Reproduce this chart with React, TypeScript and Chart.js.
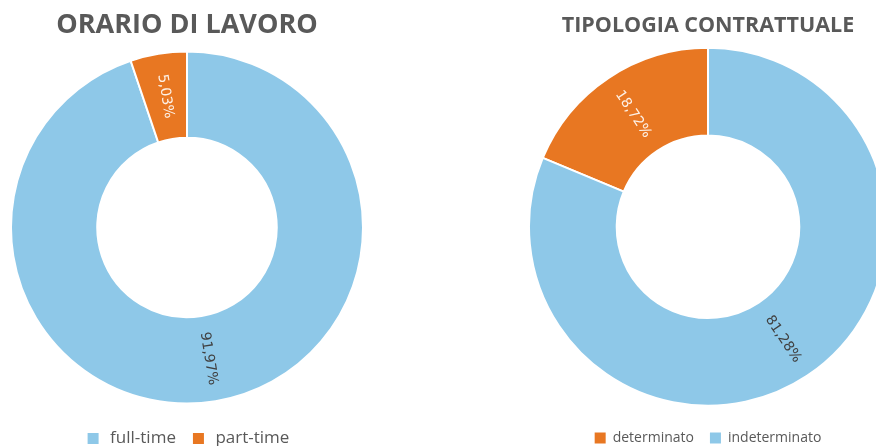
import React, { useEffect, useRef } from 'react';
import { Chart, registerables } from 'chart.js';

Chart.register(...registerables);

// ---- Data ----
const leftTitle = 'ORARIO DI LAVORO';
const leftLabels = ['full-time', 'part-time'];
const leftValues = [91.97, 5.03];

const rightTitle = 'TIPOLOGIA CONTRATTUALE';
const rightLabels = ['determinato', 'indeterminato'];
const rightValues = [18.72, 81.28];

// ---- Styles ----
const BLUE = '#8ec8e8';
const ORANGE = '#e87722';
const DARK_LABEL = '#404040';
const LIGHT_LABEL = '#fdf1e7';
const TEXT_GREY = '#595959';

const fmt = (v: number) => v.toFixed(2).replace('.', ',') + '%';

const rotatedLabels = {
  id: 'rotatedLabels',
  afterDatasetsDraw(chart: any, _args: any, opts: any) {
    const { ctx } = chart;
    const meta = chart.getDatasetMeta(0);
    const values = chart.data.datasets[0].data as number[];
    meta.data.forEach((arc: any, i: number) => {
      const p = arc.getProps(['x', 'y', 'startAngle', 'endAngle', 'innerRadius', 'outerRadius'], true);
      const mid = (p.startAngle + p.endAngle) / 2;
      const r = (p.innerRadius + p.outerRadius) / 2;
      const px = p.x + Math.cos(mid) * r;
      const py = p.y + Math.sin(mid) * r;
      let rot = mid;
      while (rot > Math.PI / 2) rot -= Math.PI;
      while (rot <= -Math.PI / 2) rot += Math.PI;
      ctx.save();
      ctx.translate(px, py);
      ctx.rotate(rot);
      ctx.font = opts.font;
      ctx.fillStyle = opts.colors[i];
      ctx.textAlign = 'center';
      ctx.textBaseline = 'middle';
      ctx.fillText(fmt(values[i]), 0, 0);
      ctx.restore();
    });
  },
};

const baseGenerate = (Chart as any).overrides.doughnut.plugins.legend.labels.generateLabels;
const generateLabels = (chart: any) =>
  baseGenerate(chart).map((item: any) => ({ ...item, lineWidth: 0, strokeStyle: 'rgba(0,0,0,0)' }));

type DonutProps = {
  title: string;
  labels: string[];
  values: number[];
  colors: string[];
  labelColors: string[];
  rotation: number;
  titleSize: number;
  titlePad: { top: number; bottom: number };
  legendSize: number;
  legendPad: number;
  pointStyle: boolean;
  left: number;
  width: number;
  height: number;
};

function Donut(props: DonutProps) {
  const ref = useRef<HTMLCanvasElement | null>(null);
  useEffect(() => {
    if (!ref.current) return;
    const chart = new Chart(ref.current, {
      type: 'doughnut',
      data: {
        labels: props.labels,
        datasets: [
          {
            data: props.values,
            backgroundColor: props.colors,
            borderColor: '#ffffff',
            borderWidth: 2,
            hoverOffset: 0,
            offset: 0,
          } as any,
        ],
      },
      options: {
        responsive: false,
        animation: false,
        cutout: '51%',
        rotation: props.rotation,
        layout: { padding: 0 },
        plugins: {
          title: {
            display: true,
            text: props.title,
            color: TEXT_GREY,
            font: { family: '"Open Sans", sans-serif', size: props.titleSize, weight: 'bold', lineHeight: 1 },
            padding: props.titlePad,
          },
          legend: {
            position: 'bottom',
            labels: {
              color: TEXT_GREY,
              font: { family: '"Open Sans", sans-serif', size: props.legendSize },
              boxWidth: props.pointStyle ? props.legendSize : 11,
              boxHeight: 11,
              usePointStyle: props.pointStyle,
              pointStyle: 'rect',
              padding: props.legendPad,
              generateLabels,
            },
          },
          tooltip: { enabled: false },
          rotatedLabels: { font: '14px "DejaVu Sans", sans-serif', colors: props.labelColors },
        } as any,
      },
      plugins: [rotatedLabels as any],
    });
    return () => chart.destroy();
  }, []);
  return (
    <canvas
      ref={ref}
      width={props.width}
      height={props.height}
      style={{ position: 'absolute', left: props.left, top: 0, width: props.width, height: props.height }}
    />
  );
}

export default function App() {
  return (
    <div
      style={{
        position: 'fixed',
        left: 0,
        top: 0,
        width: 876,
        height: 446,
        overflow: 'hidden',
        background: '#ffffff',
      }}
    >
      <Donut
        title={leftTitle}
        labels={leftLabels}
        values={leftValues}
        colors={[BLUE, ORANGE]}
        labelColors={[DARK_LABEL, LIGHT_LABEL]}
        rotation={0}
        titleSize={27}
        titlePad={{ top: 12, bottom: 0 }}
        legendSize={17}
        legendPad={14}
        pointStyle={true}
        left={10}
        width={354}
        height={457}
      />
      <Donut
        title={rightTitle}
        labels={rightLabels}
        values={rightValues}
        colors={[ORANGE, BLUE]}
        labelColors={[LIGHT_LABEL, DARK_LABEL]}
        rotation={-(rightValues[0] / (rightValues[0] + rightValues[1])) * 360}
        titleSize={21.5}
        titlePad={{ top: 15, bottom: 2 }}
        legendSize={14}
        legendPad={16}
        pointStyle={false}
        left={528}
        width={360}
        height={455}
      />
    </div>
  );
}
